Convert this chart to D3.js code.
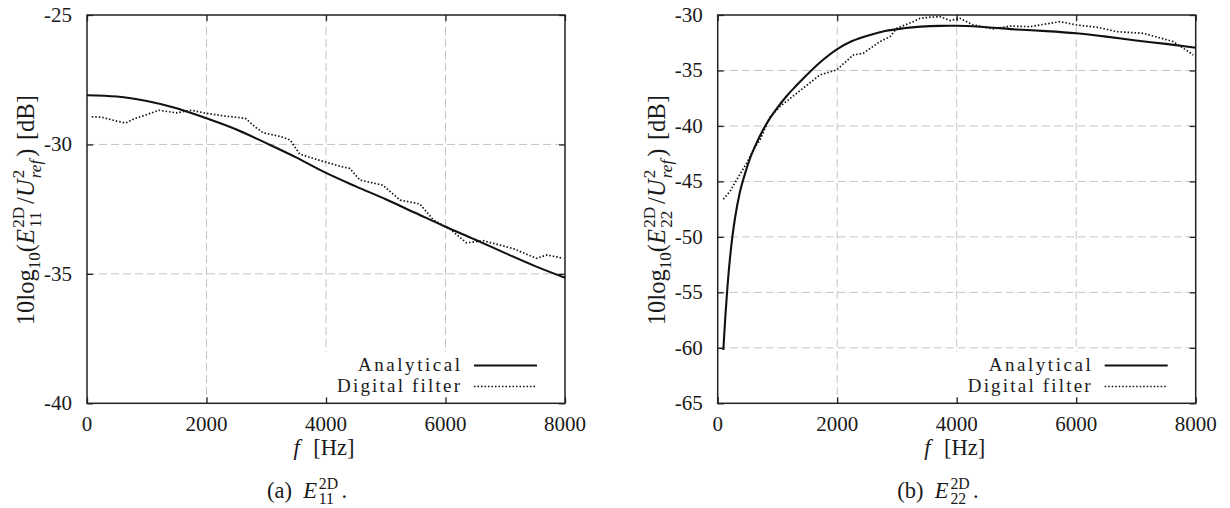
<!DOCTYPE html>
<html>
<head>
<meta charset="utf-8">
<script src="https://cdn.jsdelivr.net/npm/d3@7/dist/d3.min.js"></script>
<style>
  html, body { margin: 0; padding: 0; background: #fff; }
  svg text { font-family: "Liberation Serif", "DejaVu Serif", serif; fill: #1a1a1a; }
</style>
</head>
<body>
<svg id="chart" width="1230" height="508" font-family="Liberation Serif, DejaVu Serif, serif"></svg>
<script>
// ---------------- DATA ----------------
// (a) E11
const freqA11 = [0, 500, 1000, 1500, 2000, 2500, 3000, 3500, 4000, 4500, 5000, 5500, 6000, 6500, 7000, 7500, 8000];
const valA11  = [-28.10, -28.15, -28.32, -28.60, -28.99, -29.42, -29.95, -30.50, -31.10, -31.62, -32.12, -32.65, -33.18, -33.68, -34.20, -34.70, -35.15];
const freqD11 = [80, 250, 500, 650, 800, 1000, 1200, 1500, 1750, 2000, 2300, 2650, 2800, 2950, 3250, 3400, 3560, 3900, 4250, 4400, 4570, 4950, 5240, 5570, 5800, 6080, 6350, 6630, 7130, 7520, 7700, 7970];
const valD11  = [-28.93, -28.95, -29.10, -29.17, -29.00, -28.85, -28.68, -28.78, -28.68, -28.80, -28.90, -28.99, -29.30, -29.55, -29.70, -29.83, -30.37, -30.62, -30.85, -30.93, -31.38, -31.57, -32.15, -32.30, -32.92, -33.28, -33.80, -33.72, -34.02, -34.40, -34.27, -34.40];

// (b) E22
const freqA22 = [94, 130, 165, 206, 250, 290, 370, 457, 550, 653, 760, 875, 1000, 1155, 1300, 1490, 1750, 2008, 2250, 2549, 2800, 3106, 3400, 3720, 4000, 4500, 5000, 5500, 6000, 6500, 7000, 7500, 8000];
const valA22  = [-60.2, -57.0, -54.4, -51.9, -49.8, -48.3, -46.0, -44.3, -42.8, -41.5, -40.35, -39.3, -38.35, -37.3, -36.45, -35.4, -34.1, -33.05, -32.35, -31.8, -31.45, -31.2, -31.05, -30.98, -30.97, -31.1, -31.3, -31.45, -31.65, -31.95, -32.3, -32.6, -32.95];
const freqD22 = [94, 206, 318, 485, 596, 708, 875, 1043, 1322, 1712, 1991, 2270, 2437, 2716, 2884, 2996, 3274, 3386, 3553, 3720, 3888, 4055, 4278, 4613, 4892, 5227, 5729, 6008, 6343, 6678, 7124, 7626, 7793, 7960];
const valD22  = [-46.6, -45.9, -44.85, -43.35, -42.15, -41.25, -39.2, -38.25, -37.05, -35.4, -34.95, -33.6, -33.45, -32.4, -31.95, -31.2, -30.6, -30.3, -30.2, -30.15, -30.5, -30.3, -30.9, -31.25, -31.0, -31.05, -30.6, -30.9, -31.1, -31.5, -31.65, -32.4, -33.0, -33.6];

const xTicks = [0, 2000, 4000, 6000, 8000];
const yTicks11 = [-25, -30, -35, -40];
const yTicks22 = [-30, -35, -40, -45, -50, -55, -60, -65];
const legendLabels = ["Analytical", "Digital filter"];

// ---------------- DRAWING ----------------
const svg = d3.select("#chart");
const FS = 21;
const FONT = "'Liberation Serif', 'DejaVu Serif', serif";

function richOnce(parent, pieces, size) {
  const g = parent.append("g");
  let x = 0;
  for (const p of pieces) {
    x += (p.pre || 0) * size;
    if (p.stack) {
      const s1 = g.append("text").attr("x", x).attr("y", -size * 0.40).attr("font-family", FONT)
        .style("font-size", (size * 0.7) + "px").style("font-style", p.supIt ? "italic" : "normal").text(p.stack[0]);
      const s2 = g.append("text").attr("x", x).attr("y", size * 0.28).attr("font-family", FONT)
        .style("font-size", (size * 0.7) + "px").style("font-style", p.subIt ? "italic" : "normal").text(p.stack[1]);
      x += Math.max(s1.node().getComputedTextLength(), s2.node().getComputedTextLength());
    } else {
      const el = g.append("text").attr("x", x).attr("y", p.sub ? size * 0.25 : 0).attr("font-family", FONT)
        .style("font-size", (p.sub ? size * 0.7 : size) + "px")
        .style("font-style", p.it ? "italic" : "normal").text(p.t);
      x += el.node().getComputedTextLength();
    }
    x += (p.post || 0) * size;
  }
  return { g, width: x };
}
function rich(parent, pieces, size, target) {
  let r = richOnce(parent, pieces, size);
  if (target) {
    const s = size * target / r.width;
    r.g.remove();
    r = richOnce(parent, pieces, s);
  }
  return r;
}

function panel(cfg) {
  const { x0, x1, y0, y1 } = cfg;
  const xs = d3.scaleLinear().domain([0, 8000]).range([x0, x1]);
  const ys = d3.scaleLinear().domain(cfg.yDomain).range([y1, y0]);
  const g = svg.append("g");

  // grid
  const gridX = xTicks.slice(1, -1), gridY = cfg.yTicks.slice(1, -1);
  g.append("g").selectAll("line").data(gridX).join("line")
    .attr("x1", d => xs(d)).attr("x2", d => xs(d)).attr("y1", y0).attr("y2", y1)
    .attr("stroke", "#c4c4c4").attr("stroke-width", 1).attr("stroke-dasharray", "8,4");
  g.append("g").selectAll("line").data(gridY).join("line")
    .attr("y1", d => ys(d)).attr("y2", d => ys(d)).attr("x1", x0).attr("x2", x1)
    .attr("stroke", "#c4c4c4").attr("stroke-width", 1).attr("stroke-dasharray", "8,4");

  // legend background (hides grid)
  g.append("rect").attr("x", x1 - 245).attr("y", 352).attr("width", 243).attr("height", y1 - 353)
    .attr("fill", "#fff");

  // axes with inward ticks on all four sides
  const tl = 6;
  const axB = d3.axisBottom(xs).tickValues(xTicks).tickSize(-tl).tickFormat("");
  const axT = d3.axisTop(xs).tickValues(xTicks).tickSize(-tl).tickFormat("");
  const axL = d3.axisLeft(ys).tickValues(cfg.yTicks).tickSize(-tl).tickFormat("");
  const axR = d3.axisRight(ys).tickValues(cfg.yTicks).tickSize(-tl).tickFormat("");
  [[axB, `translate(0,${y1})`], [axT, `translate(0,${y0})`], [axL, `translate(${x0},0)`], [axR, `translate(${x1},0)`]]
    .forEach(([ax, tr]) => {
      const a = g.append("g").attr("transform", tr).call(ax);
      a.select(".domain").remove();
      a.selectAll("line").attr("stroke", "#222").attr("stroke-width", 1.3);
    });
  g.append("rect").attr("x", x0).attr("y", y0).attr("width", x1 - x0).attr("height", y1 - y0)
    .attr("fill", "none").attr("stroke", "#222").attr("stroke-width", 1.5);

  // tick labels
  g.append("g").selectAll("text").data(xTicks).join("text")
    .attr("x", d => xs(d)).attr("y", y1 + 27.7).attr("text-anchor", "middle").attr("font-family", FONT)
    .style("font-size", FS + "px").text(d => d);
  g.append("g").selectAll("text").data(cfg.yTicks).join("text")
    .attr("x", x0 - 15).attr("y", d => ys(d) + 7).attr("text-anchor", "end").attr("font-family", FONT)
    .style("font-size", FS + "px").text(d => d);

  // curves
  const lineA = d3.line().x(d => xs(d[0])).y(d => ys(d[1])).curve(d3.curveMonotoneX);
  const lineD = d3.line().x(d => xs(d[0])).y(d => ys(d[1]));
  const dataA = cfg.fA.map((f, i) => [f, cfg.vA[i]]);
  const dataD = cfg.fD.map((f, i) => [f, cfg.vD[i]]);
  g.append("path").datum(dataD).attr("d", lineD).attr("fill", "none")
    .attr("stroke", "#111").attr("stroke-width", 1.7).attr("stroke-dasharray", "1.5,2");
  g.append("path").datum(dataA).attr("d", lineA).attr("fill", "none")
    .attr("stroke", "#111").attr("stroke-width", 2.1);

  // legend
  const lg = g.append("g");
  const ly = [365.5, 386.5];
  lg.selectAll("text").data(legendLabels).join("text")
    .attr("x", x1 - 105).attr("y", (d, i) => ly[i] + 5.5).attr("text-anchor", "end").attr("font-family", FONT)
    .style("font-size", "19px")
    .attr("textLength", (d, i) => i === 0 ? 102 : 123).attr("lengthAdjust", "spacing")
    .text(d => d);
  lg.append("line").attr("x1", x1 - 91).attr("x2", x1 - 28).attr("y1", ly[0]).attr("y2", ly[0])
    .attr("stroke", "#111").attr("stroke-width", 2.1);
  lg.append("line").attr("x1", x1 - 91).attr("x2", x1 - 28).attr("y1", ly[1]).attr("y2", ly[1])
    .attr("stroke", "#111").attr("stroke-width", 1.7).attr("stroke-dasharray", "1.5,2");

  // y label
  const yl = rich(svg, [
    { t: "10log" }, { t: "10", sub: true }, { t: "(" }, { t: "E", it: true },
    { stack: ["2D", cfg.idx], pre: 0.05 }, { t: "/", pre: 0.12 }, { t: "U", it: true },
    { stack: ["2", "ref"], subIt: true, pre: 0.05 }, { t: ")", pre: 0.12 }, { t: "[dB]", pre: 0.35 }
  ], FS, 230);
  yl.g.attr("transform", `translate(${x0 - 53},${(y0 + y1) / 2 + 1}) rotate(-90) translate(${-yl.width / 2},0)`);

  // x label
  const xl = rich(svg, [{ t: "f", it: true }, { t: "[Hz]", pre: 0.6 }], FS, 61);
  xl.g.attr("transform", `translate(${(x0 + x1) / 2 - xl.width / 2 - 2},455)`);

  // caption
  const cap = rich(svg, [{ t: cfg.cap }, { t: "E", it: true, pre: 0.5 }, { stack: ["2D", cfg.idx], pre: 0.08 }, { t: ".", pre: 0.15 }], 22.5);
  cap.g.attr("transform", `translate(${cfg.capX - cap.width / 2},498)`);
}

panel({ x0: 87, x1: 565, y0: 15, y1: 403.3, yDomain: [-40, -25], yTicks: yTicks11,
        fA: freqA11, vA: valA11, fD: freqD11, vD: valD11, idx: "11", cap: "(a)", capX: 307 });
panel({ x0: 717.7, x1: 1195.7, y0: 15, y1: 403.3, yDomain: [-65, -30], yTicks: yTicks22,
        fA: freqA22, vA: valA22, fD: freqD22, vD: valD22, idx: "22", cap: "(b)", capX: 938 });
</script>
</body>
</html>
